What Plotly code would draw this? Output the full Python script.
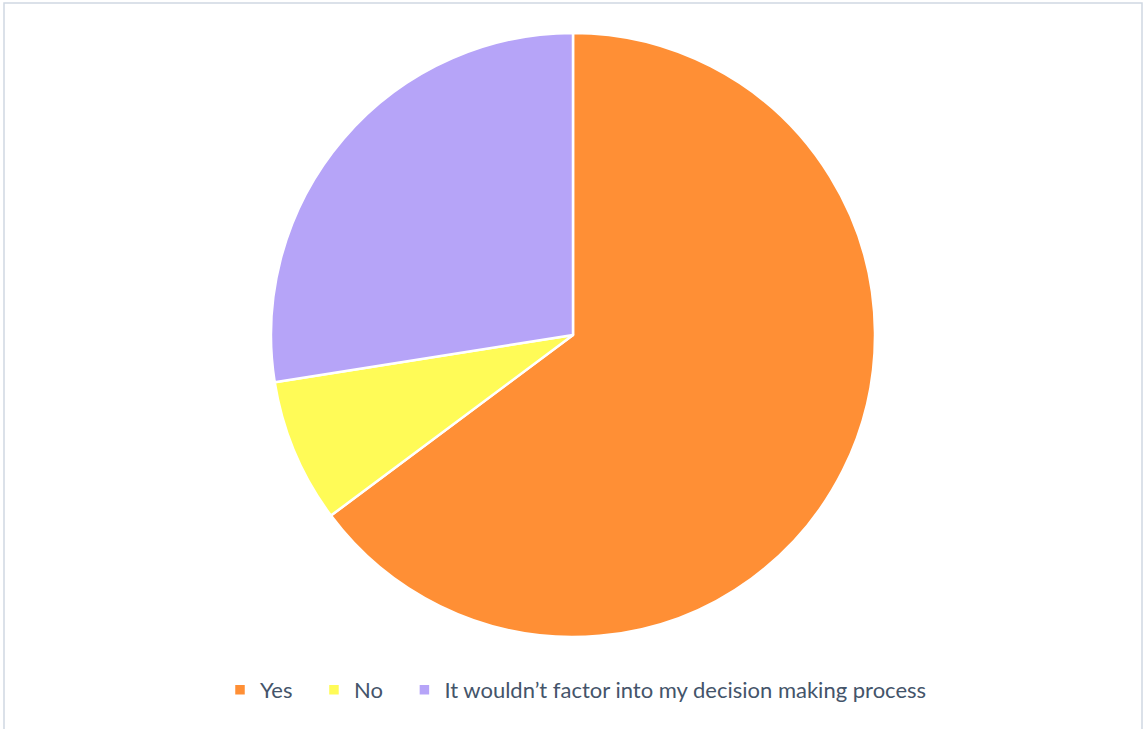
import plotly.graph_objects as go

labels = ["Yes", "No", "It wouldn\u2019t factor into my decision making process"]
values = [64.8, 7.7, 27.5]
colors = ["#FF8F35", "#FFFB57", "#B6A4F8"]

W, H = 1143, 729
cx, cy, r = 573, 335, 302

# pad legend entries so the gaps between items match the reference
shown_labels = [lab + "\u2003" if i < len(labels) - 1 else lab for i, lab in enumerate(labels)]

fig = go.Figure(go.Pie(
    labels=shown_labels, values=values, sort=False, direction="clockwise", rotation=0,
    marker=dict(colors=colors, line=dict(color="white", width=2.5)),
    textinfo="none", hoverinfo="label+percent",
    domain=dict(x=[(cx - r) / W, (cx + r) / W], y=[1 - (cy + r) / H, 1 - (cy - r) / H]),
))

fig.update_layout(
    width=W, height=H, margin=dict(l=0, r=0, t=0, b=0),
    paper_bgcolor="white", plot_bgcolor="white",
    legend=dict(orientation="h", x=576 / W, xanchor="center", y=1 - 690 / H, yanchor="middle",
                font=dict(family="Lato", size=22, color="#44546A"),
                itemwidth=30, traceorder="normal"),
    shapes=[dict(type="rect", xref="paper", yref="paper", x0=4 / W, x1=1142 / W, y0=-0.01, y1=1 - 3 / H,
                 line=dict(color="#D0D8E2", width=1.5), fillcolor="rgba(0,0,0,0)")],
)

fig.write_html("out.html", config={"displayModeBar": False},
               post_script="document.body.style.margin='0';document.body.style.overflow='hidden';")
